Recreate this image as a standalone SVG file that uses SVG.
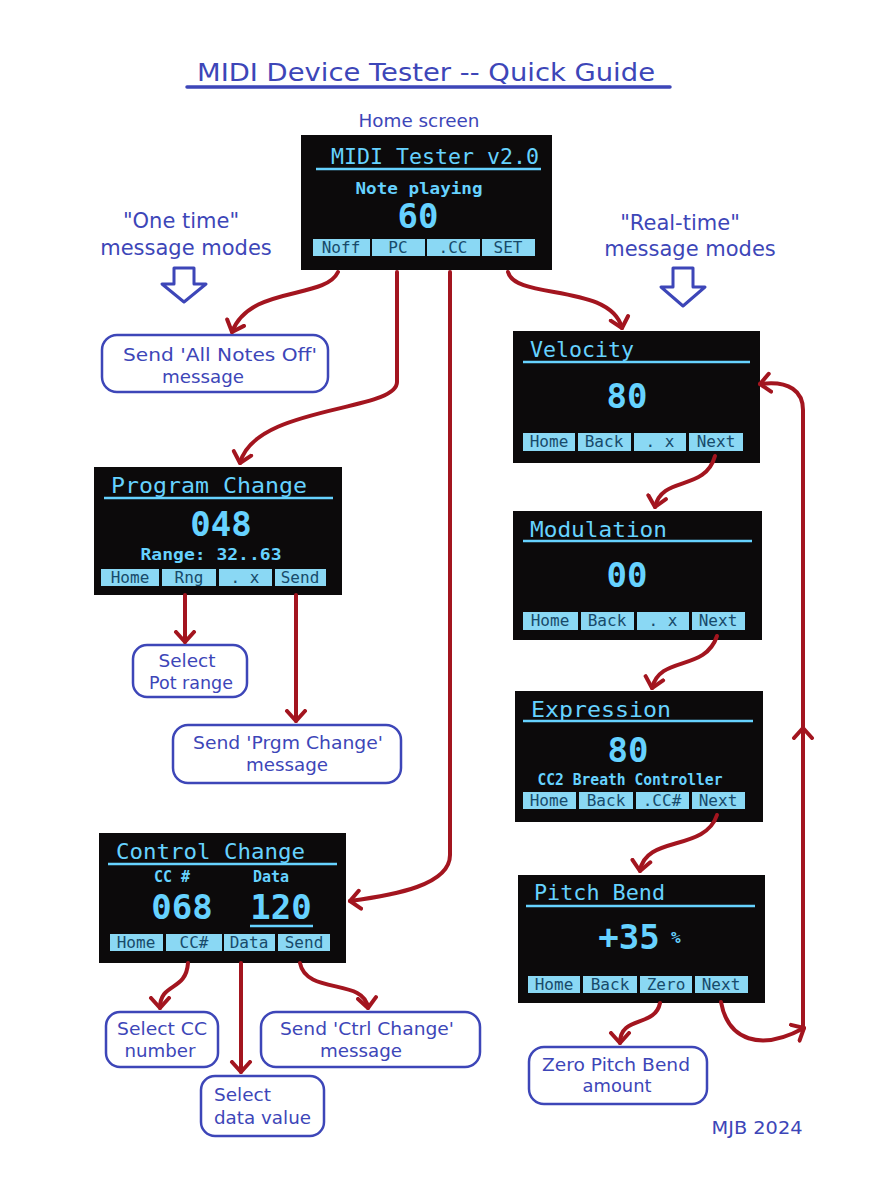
<svg xmlns="http://www.w3.org/2000/svg" width="872" height="1184" viewBox="0 0 872 1184">
<style>
.bg{fill:#ffffff}
.scr{fill:#0c0a0b}
.dt{font-family:"DejaVu Sans Mono",monospace;fill:#66d2ff}
.ttl{font-size:22px}
.big{font-size:34px;font-weight:bold;text-anchor:middle}
.mid{font-size:15px;font-weight:bold;text-anchor:middle}
.ul{stroke:#66d2ff;stroke-width:2.5}
.btn{fill:#8ad8f4}
.bt{font-family:"DejaVu Sans Mono",monospace;font-size:16px;fill:#174a6a;text-anchor:middle}
.lbl{font-family:"DejaVu Sans",Verdana,sans-serif;fill:#3d46b8}
.lb{font-size:18px;text-anchor:middle}
.box{fill:#ffffff;stroke:#3d46b8;stroke-width:2.5}
.con{fill:none;stroke:#a3151f;stroke-width:4;stroke-linecap:round}
.hol{fill:#ffffff;stroke:#3d46b8;stroke-width:3;stroke-linejoin:round}
</style>
<defs>
<marker id="ah" markerUnits="userSpaceOnUse" markerWidth="24" markerHeight="24" refX="12" refY="12" orient="auto">
<path d="M2,3 L12,12 L2,21" fill="none" stroke="#a3151f" stroke-width="4" stroke-linecap="round" stroke-linejoin="round"/>
</marker>
</defs>
<rect class="bg" x="0" y="0" width="872" height="1184"/>

<g id="title">
<text class="lbl" x="197" y="81" font-size="25" textLength="458" lengthAdjust="spacingAndGlyphs">MIDI Device Tester -- Quick Guide</text>
<line x1="187" y1="87" x2="670" y2="87" stroke="#3d46b8" stroke-width="3.5" stroke-linecap="round"/>
<text class="lbl lb" x="419" y="127" textLength="121" lengthAdjust="spacingAndGlyphs">Home screen</text>
</g>

<g id="one-time">
<text class="lbl" x="181" y="228" font-size="21" text-anchor="middle">"One time"</text>
<text class="lbl" x="186" y="255" font-size="21" text-anchor="middle">message modes</text>
<path class="hol" d="M174,268 H194 V284 H206 L184,302 L162,284 H174 Z"/>
</g>
<g id="real-time">
<text class="lbl" x="680" y="230" font-size="21" text-anchor="middle">"Real-time"</text>
<text class="lbl" x="690" y="256" font-size="21" text-anchor="middle">message modes</text>
<path class="hol" d="M673,268 H693 V287 H705 L683,306 L661,287 H673 Z"/>
</g>

<g id="home">
<rect class="scr" x="301" y="135" width="251" height="135"/>
<text class="dt ttl" x="331" y="164" textLength="208" lengthAdjust="spacingAndGlyphs">MIDI Tester v2.0</text>
<line class="ul" x1="316" y1="169" x2="541" y2="169"/>
<text class="dt mid" x="419" y="194" font-size="16" textLength="127" lengthAdjust="spacingAndGlyphs">Note playing</text>
<text class="dt big" x="418" y="228">60</text>
<rect class="btn" x="313" y="239" width="57" height="17"/><text class="bt" x="341" y="253">Noff</text>
<rect class="btn" x="372" y="239" width="53" height="17"/><text class="bt" x="398" y="253">PC</text>
<rect class="btn" x="427" y="239" width="53" height="17"/><text class="bt" x="453" y="253">.CC</text>
<rect class="btn" x="482" y="239" width="53" height="17"/><text class="bt" x="508" y="253">SET</text>
</g>

<g id="velocity">
<rect class="scr" x="513" y="331" width="247" height="132"/>
<text class="dt ttl" x="530" y="357" textLength="104" lengthAdjust="spacingAndGlyphs">Velocity</text>
<line class="ul" x1="523" y1="362" x2="750" y2="362"/>
<text class="dt big" x="627" y="408">80</text>
<rect class="btn" x="523" y="433" width="52" height="18"/><text class="bt" x="549" y="447">Home</text>
<rect class="btn" x="578" y="433" width="53" height="18"/><text class="bt" x="604" y="447">Back</text>
<rect class="btn" x="634" y="433" width="52" height="18"/><text class="bt" x="660" y="447">. x</text>
<rect class="btn" x="689" y="433" width="54" height="18"/><text class="bt" x="716" y="447">Next</text>
</g>

<g id="modulation">
<rect class="scr" x="513" y="511" width="249" height="129"/>
<text class="dt ttl" x="530" y="537" textLength="137" lengthAdjust="spacingAndGlyphs">Modulation</text>
<line class="ul" x1="523" y1="541" x2="752" y2="541"/>
<text class="dt big" x="627" y="587">00</text>
<rect class="btn" x="523" y="612" width="55" height="18"/><text class="bt" x="550" y="626">Home</text>
<rect class="btn" x="581" y="612" width="53" height="18"/><text class="bt" x="607" y="626">Back</text>
<rect class="btn" x="637" y="612" width="52" height="18"/><text class="bt" x="663" y="626">. x</text>
<rect class="btn" x="692" y="612" width="53" height="18"/><text class="bt" x="718" y="626">Next</text>
</g>

<g id="expression">
<rect class="scr" x="515" y="691" width="248" height="131"/>
<text class="dt ttl" x="531" y="717" textLength="140" lengthAdjust="spacingAndGlyphs">Expression</text>
<line class="ul" x1="523" y1="721" x2="753" y2="721"/>
<text class="dt big" x="628" y="762">80</text>
<text class="dt mid" x="630" y="785" textLength="185" lengthAdjust="spacingAndGlyphs">CC2 Breath Controller</text>
<rect class="btn" x="523" y="792" width="53" height="17"/><text class="bt" x="549" y="806">Home</text>
<rect class="btn" x="579" y="792" width="54" height="17"/><text class="bt" x="606" y="806">Back</text>
<rect class="btn" x="636" y="792" width="53" height="17"/><text class="bt" x="662" y="806">.CC#</text>
<rect class="btn" x="692" y="792" width="53" height="17"/><text class="bt" x="718" y="806">Next</text>
</g>

<g id="pitch-bend">
<rect class="scr" x="518" y="875" width="247" height="128"/>
<text class="dt ttl" x="534" y="900" textLength="131" lengthAdjust="spacingAndGlyphs">Pitch Bend</text>
<line class="ul" x1="526" y1="906" x2="755" y2="906"/>
<text class="dt big" x="629" y="949">+35</text>
<text class="dt" x="671" y="943" font-size="16" font-weight="bold">%</text>
<rect class="btn" x="528" y="976" width="52" height="17"/><text class="bt" x="554" y="990">Home</text>
<rect class="btn" x="583" y="976" width="54" height="17"/><text class="bt" x="610" y="990">Back</text>
<rect class="btn" x="640" y="976" width="52" height="17"/><text class="bt" x="666" y="990">Zero</text>
<rect class="btn" x="695" y="976" width="53" height="17"/><text class="bt" x="721" y="990">Next</text>
</g>

<g id="program-change">
<rect class="scr" x="94" y="467" width="248" height="128"/>
<text class="dt ttl" x="111" y="493" textLength="196" lengthAdjust="spacingAndGlyphs">Program Change</text>
<line class="ul" x1="104" y1="498" x2="333" y2="498"/>
<text class="dt big" x="221" y="536">048</text>
<text class="dt mid" x="211" y="560" textLength="141" lengthAdjust="spacingAndGlyphs">Range: 32..63</text>
<rect class="btn" x="101" y="569" width="58" height="17"/><text class="bt" x="130" y="583">Home</text>
<rect class="btn" x="162" y="569" width="54" height="17"/><text class="bt" x="189" y="583">Rng</text>
<rect class="btn" x="219" y="569" width="53" height="17"/><text class="bt" x="245" y="583">. x</text>
<rect class="btn" x="275" y="569" width="51" height="17"/><text class="bt" x="300" y="583">Send</text>
</g>

<g id="control-change">
<rect class="scr" x="99" y="833" width="247" height="130"/>
<text class="dt ttl" x="116" y="859" textLength="189" lengthAdjust="spacingAndGlyphs">Control Change</text>
<line class="ul" x1="108" y1="864" x2="337" y2="864"/>
<text class="dt mid" x="172" y="882" font-size="14">CC #</text>
<text class="dt mid" x="271" y="882" font-size="14">Data</text>
<text class="dt big" x="182" y="919" font-size="31">068</text>
<text class="dt big" x="281" y="919" font-size="31">120</text>
<line class="ul" x1="250" y1="926" x2="313" y2="926" stroke-width="3"/>
<rect class="btn" x="110" y="934" width="53" height="17"/><text class="bt" x="136" y="948">Home</text>
<rect class="btn" x="166" y="934" width="56" height="17"/><text class="bt" x="194" y="948">CC#</text>
<rect class="btn" x="224" y="934" width="51" height="17"/><text class="bt" x="249" y="948">Data</text>
<rect class="btn" x="278" y="934" width="52" height="17"/><text class="bt" x="304" y="948">Send</text>
</g>

<g id="all-notes-off">
<rect class="box" x="102" y="335" width="226" height="57" rx="15"/>
<text class="lbl lb" x="220" y="361" textLength="194" lengthAdjust="spacingAndGlyphs">Send 'All Notes Off'</text>
<text class="lbl lb" x="203" y="383" textLength="82" lengthAdjust="spacingAndGlyphs">message</text>
</g>
<g id="pot-range">
<rect class="box" x="133" y="645" width="114" height="52" rx="14"/>
<text class="lbl lb" x="187" y="667" textLength="57" lengthAdjust="spacingAndGlyphs">Select</text>
<text class="lbl lb" x="191" y="689" textLength="84" lengthAdjust="spacingAndGlyphs">Pot range</text>
</g>
<g id="prgm-change">
<rect class="box" x="173" y="725" width="228" height="58" rx="15"/>
<text class="lbl lb" x="288" y="749" textLength="190" lengthAdjust="spacingAndGlyphs">Send 'Prgm Change'</text>
<text class="lbl lb" x="287" y="771" textLength="82" lengthAdjust="spacingAndGlyphs">message</text>
</g>
<g id="cc-number">
<rect class="box" x="106" y="1012" width="112" height="55" rx="14"/>
<text class="lbl lb" x="162" y="1035" textLength="90" lengthAdjust="spacingAndGlyphs">Select CC</text>
<text class="lbl lb" x="160" y="1057" textLength="71" lengthAdjust="spacingAndGlyphs">number</text>
</g>
<g id="ctrl-change">
<rect class="box" x="261" y="1012" width="219" height="55" rx="15"/>
<text class="lbl lb" x="367" y="1035" textLength="174" lengthAdjust="spacingAndGlyphs">Send 'Ctrl Change'</text>
<text class="lbl lb" x="361" y="1057" textLength="82" lengthAdjust="spacingAndGlyphs">message</text>
</g>
<g id="data-value">
<rect class="box" x="201" y="1076" width="123" height="60" rx="14"/>
<text class="lbl" x="214" y="1101" font-size="18" textLength="57" lengthAdjust="spacingAndGlyphs">Select</text>
<text class="lbl" x="214" y="1124" font-size="18" textLength="97" lengthAdjust="spacingAndGlyphs">data value</text>
</g>
<g id="zero-pitch">
<rect class="box" x="529" y="1047" width="178" height="57" rx="15"/>
<text class="lbl lb" x="616" y="1071" textLength="148" lengthAdjust="spacingAndGlyphs">Zero Pitch Bend</text>
<text class="lbl lb" x="617" y="1092" textLength="69" lengthAdjust="spacingAndGlyphs">amount</text>
</g>
<text class="lbl lb" x="757" y="1134" textLength="91" lengthAdjust="spacingAndGlyphs">MJB 2024</text>

<g id="connectors">
<path class="con" marker-end="url(#ah)" d="M338,272 C325,300 250,285 232,332"/>
<path class="con" marker-end="url(#ah)" d="M397,272 L397,382 C397,412 255,405 240,463"/>
<path class="con" marker-end="url(#ah)" d="M450,272 L450,855 C450,885 395,895 350,901"/>
<path class="con" marker-end="url(#ah)" d="M508,272 C515,300 610,283 622,328"/>
<path class="con" marker-end="url(#ah)" d="M715,456 C705,492 662,475 655,507"/>
<path class="con" marker-end="url(#ah)" d="M717,636 C705,672 660,655 652,688"/>
<path class="con" marker-end="url(#ah)" d="M717,815 C705,852 645,835 640,871"/>
<path class="con" marker-end="url(#ah)" d="M185,595 L185,642"/>
<path class="con" marker-end="url(#ah)" d="M296,595 L296,721"/>
<path class="con" marker-end="url(#ah)" d="M188,963 C186,992 160,982 160,1008"/>
<path class="con" marker-end="url(#ah)" d="M241,963 L241,1072"/>
<path class="con" marker-end="url(#ah)" d="M300,963 C306,995 365,978 368,1008"/>
<path class="con" marker-end="url(#ah)" d="M660,1003 C655,1028 620,1015 620,1043"/>
<path class="con" marker-end="url(#ah)" d="M721,1002 C728,1040 760,1052 804,1028"/>
<path class="con" marker-end="url(#ah)" d="M803,1028 L803,728"/>
<path class="con" marker-end="url(#ah)" d="M803,730 L803,410 C803,392 790,380 760,384"/>
</g>
</svg>
